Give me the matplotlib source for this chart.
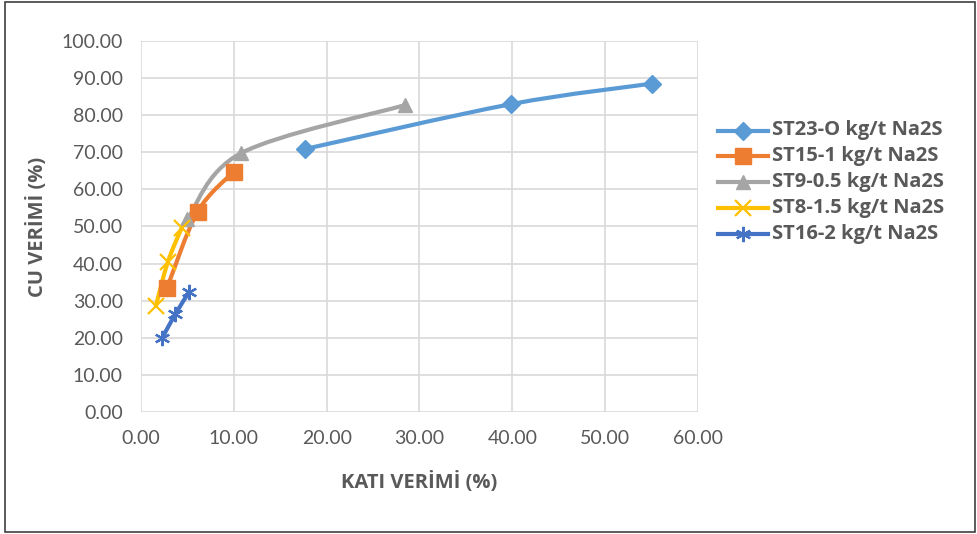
import numpy as np
import matplotlib
import matplotlib.pyplot as plt
from matplotlib.path import Path
from matplotlib.patches import PathPatch
from matplotlib.lines import Line2D

plt.rcParams['font.family'] = ['Lato', 'DejaVu Sans']
boldfont = ['Open Sans', 'DejaVu Sans']

# data
st23_x = [17.7, 39.9, 55.0]
st23_y = [70.9, 83.0, 88.5]
st15_x = [2.8, 6.1, 10.0]
st15_y = [33.4, 54.0, 64.8]
st9_x = [5.0, 10.8, 28.4]
st9_y = [52.0, 69.8, 82.7]
st8_x = [1.6, 2.9, 4.4]
st8_y = [28.6, 40.5, 49.7]
st16_x = [2.3, 3.7, 5.2]
st16_y = [20.0, 26.4, 32.4]

labels = ['ST23-O kg/t Na2S', 'ST15-1 kg/t Na2S', 'ST9-0.5 kg/t Na2S',
          'ST8-1.5 kg/t Na2S', 'ST16-2 kg/t Na2S']
colors = ['#5B9BD5', '#ED7D31', '#A5A5A5', '#FFC000', '#4472C4']
markers = ['D', 's', '^', 'x', (6, 2, 0)]
msizes = [9, 11, 10, 11, 11]

fig = plt.figure(figsize=(9.77, 5.34), dpi=100)
ax = fig.add_axes([0.1443, 0.2285, 0.5701, 0.6947])


def smooth_path(ax, xs, ys, color):
    # Excel-style smoothed line: cubic bezier through the points
    pts = ax.transData.transform(np.column_stack([xs, ys]))
    n = len(pts)
    verts = [pts[0]]
    codes = [Path.MOVETO]
    for i in range(n - 1):
        p0 = pts[i - 1] if i > 0 else pts[i]
        p1 = pts[i]
        p2 = pts[i + 1]
        p3 = pts[i + 2] if i + 2 < n else pts[i + 1]
        c1 = p1 + (p2 - p0) / 6.0
        c2 = p2 - (p3 - p1) / 6.0
        verts += [c1, c2, p2]
        codes += [Path.CURVE4] * 3
    path = Path(verts, codes)
    patch = PathPatch(path, facecolor='none', edgecolor=color, lw=3.0,
                      transform=None, capstyle='round', zorder=3)
    ax.add_artist(patch)


ax.set_xlim(0, 60)
ax.set_ylim(0, 100)
ax.set_xticks(np.arange(0, 61, 10))
ax.set_yticks(np.arange(0, 101, 10))
ax.set_xticklabels(['%.2f' % v for v in np.arange(0, 61, 10)])
ax.set_yticklabels(['%.2f' % v for v in np.arange(0, 101, 10)])
ax.grid(True, color='#D9D9D9', lw=1.2)
ax.set_axisbelow(True)
for s in ax.spines.values():
    s.set_visible(False)
ax.tick_params(length=0, labelsize=14, labelcolor='#595959')
ax.tick_params(axis='y', pad=13)
ax.tick_params(axis='x', pad=13)

series = [(st23_x, st23_y), (st15_x, st15_y), (st9_x, st9_y),
          (st8_x, st8_y), (st16_x, st16_y)]

fig.canvas.draw()
handles = []
for (xs, ys), c, m, ms, lab in zip(series, colors, markers, msizes, labels):
    smooth_path(ax, xs, ys, c)
    mew = 1.6 if m in ('x', (6, 2, 0)) else 1
    ax.plot(xs, ys, ls='none', marker=m, ms=ms, color=c, mec=c, mew=mew, zorder=4)
    handles.append(Line2D([], [], color=c, lw=3.0, marker=m, ms=ms, mec=c, mew=mew))

ax.set_xlabel('KATI VERİMİ (%)', fontsize=14.5, fontweight='bold', family=boldfont,
              color='#595959', labelpad=18)
ax.set_ylabel('CU VERİMİ (%)', fontsize=14.5, fontweight='bold', family=boldfont,
              color='#595959', labelpad=10)

leg = fig.legend(handles=handles, labels=labels, loc='center left',
                 bbox_to_anchor=(0.722, 0.659), frameon=False, handlelength=3.6,
                 labelspacing=0.42, handletextpad=0.3)
for t in leg.get_texts():
    t.set_fontweight('bold')
    t.set_family(boldfont)
    t.set_fontsize(14.5)
    t.set_color('#595959')

fig.patches.append(matplotlib.patches.Rectangle((0.005, 0.004), 0.993, 0.992,
                   transform=fig.transFigure, fill=False, ec='#404040', lw=1.2))

fig.savefig('out.png', dpi=100)
